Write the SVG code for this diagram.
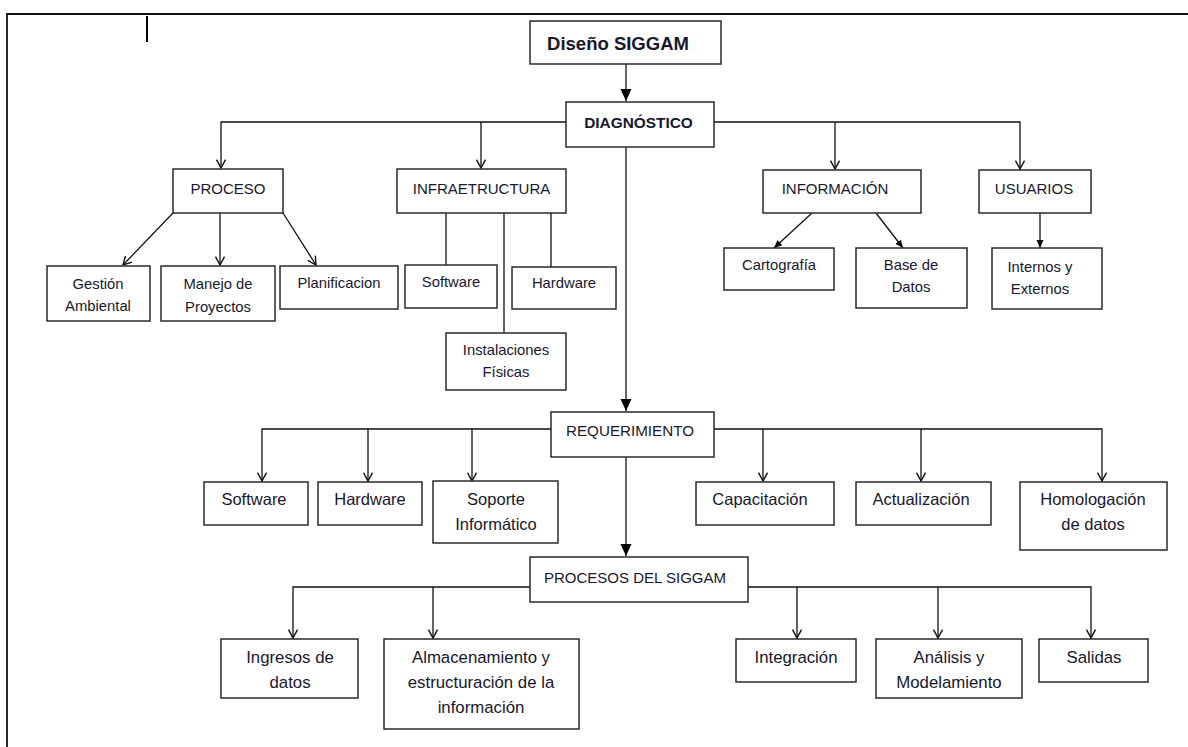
<svg xmlns="http://www.w3.org/2000/svg" width="1188" height="747" viewBox="0 0 1188 747">
<style>
.box{fill:#fff;stroke:#2a2a2a;stroke-width:1.5}
.t{font-family:"Liberation Sans",Arial,sans-serif;fill:#17172e;text-anchor:middle}
.h{font-size:15px}
.s{font-size:14.8px}
.m{font-size:16.5px}
.l{font-size:16.8px}
.c{fill:none;stroke:#111;stroke-width:1.3}
.open{marker-end:url(#open)}
.fill{marker-end:url(#fill)}
.sm{marker-end:url(#small)}
</style>
<defs>
<marker id="open" viewBox="0 0 10 10" refX="9.3" refY="5" markerWidth="10" markerHeight="10" orient="auto" markerUnits="userSpaceOnUse"><path d="M1,0.5 L9.3,5 L1,9.5" fill="none" stroke="#111" stroke-width="1.4"/></marker>
<marker id="fill" viewBox="0 0 12 12" refX="12" refY="6" markerWidth="12" markerHeight="12" orient="auto" markerUnits="userSpaceOnUse"><path d="M0,0.5 L12,6 L0,11.5 z" fill="#000"/></marker>
<marker id="small" viewBox="0 0 8 8" refX="8" refY="4" markerWidth="8" markerHeight="8" orient="auto" markerUnits="userSpaceOnUse"><path d="M0,0.5 L8,4 L0,7.5 z" fill="#000"/></marker>
</defs>
<g id="frame">
<path d="M7,747 V14 H1188" fill="none" stroke="#111" stroke-width="1.8"/>
<rect x="146" y="16" width="2" height="26" fill="#000"/>
</g>
<g id="connectors">
<path class="c fill" d="M626,64 V101"/>
<path class="c open" d="M566,122 H221 V168"/>
<path class="c open" d="M481,122 V168"/>
<path class="c open" d="M714,122 H1020 V169"/>
<path class="c open" d="M835,122 V169"/>
<path class="c fill" d="M626,147 V411"/>
<path class="c open" d="M173,213 L123,265"/>
<path class="c open" d="M220,213 V265"/>
<path class="c open" d="M283,213 L316,265"/>
<path class="c" d="M446,213 V265"/>
<path class="c" d="M504,213 V333"/>
<path class="c" d="M551,213 V267"/>
<path class="c sm" d="M812,213 L774,248"/>
<path class="c sm" d="M876,213 L903,248"/>
<path class="c sm" d="M1040,213 V248"/>
<path class="c open" d="M551,429 H262 V481"/>
<path class="c open" d="M368,429 V481"/>
<path class="c open" d="M472,429 V481"/>
<path class="c open" d="M714,429 H1102 V481"/>
<path class="c open" d="M763,429 V481"/>
<path class="c open" d="M921,429 V481"/>
<path class="c fill" d="M626,457 V556"/>
<path class="c open" d="M530,587 H293 V638"/>
<path class="c open" d="M433,587 V638"/>
<path class="c open" d="M748,587 H1091 V638"/>
<path class="c open" d="M797,587 V638"/>
<path class="c open" d="M938,587 V638"/>
</g>
<g id="diseno"><rect class="box" x="530" y="21" width="191" height="43"/><text class="t" x="618" y="50" font-size="18.5" font-weight="bold">Diseño SIGGAM</text></g>
<g id="diagnostico"><rect class="box" x="566" y="102" width="148" height="45"/><text class="t" x="638.5" y="128" font-size="15.4" font-weight="bold">DIAGNÓSTICO</text></g>
<g id="proceso"><rect class="box" x="173" y="169" width="110" height="44"/><text class="t h" x="228" y="194">PROCESO</text></g>
<g id="infraestructura"><rect class="box" x="397" y="169" width="169" height="44"/><text class="t h" x="481.5" y="194">INFRAETRUCTURA</text></g>
<g id="informacion"><rect class="box" x="763" y="170" width="158" height="43"/><text class="t h" x="835" y="194">INFORMACIÓN</text></g>
<g id="usuarios"><rect class="box" x="979" y="170" width="112" height="43"/><text class="t h" x="1034" y="194">USUARIOS</text></g>
<g id="gestion"><rect class="box" x="47" y="266" width="103" height="55"/><text class="t s" x="98" y="289">Gestión</text><text class="t s" x="98" y="311">Ambiental</text></g>
<g id="manejo"><rect class="box" x="161" y="266" width="114" height="55"/><text class="t s" x="218" y="289">Manejo de</text><text class="t s" x="218" y="312">Proyectos</text></g>
<g id="planificacion"><rect class="box" x="280" y="266" width="118" height="43"/><text class="t s" x="339" y="288">Planificacion</text></g>
<g id="software1"><rect class="box" x="405" y="265" width="92" height="43"/><text class="t s" x="451" y="287">Software</text></g>
<g id="hardware1"><rect class="box" x="512" y="267" width="104" height="42"/><text class="t s" x="564" y="288">Hardware</text></g>
<g id="instalaciones"><rect class="box" x="446" y="333" width="120" height="57"/><text class="t s" x="506" y="355">Instalaciones</text><text class="t s" x="506" y="377">Físicas</text></g>
<g id="cartografia"><rect class="box" x="724" y="248" width="110" height="42"/><text class="t s" x="779" y="270">Cartografía</text></g>
<g id="basedatos"><rect class="box" x="856" y="248" width="111" height="60"/><text class="t s" x="911" y="270">Base de</text><text class="t s" x="911" y="292">Datos</text></g>
<g id="internos"><rect class="box" x="992" y="248" width="110" height="61"/><text class="t s" x="1040" y="272">Internos y</text><text class="t s" x="1040" y="294">Externos</text></g>
<g id="requerimiento"><rect class="box" x="551" y="412" width="163" height="45"/><text class="t" x="630" y="436" font-size="15.2">REQUERIMIENTO</text></g>
<g id="software2"><rect class="box" x="204" y="482" width="104" height="43"/><text class="t m" x="254" y="505">Software</text></g>
<g id="hardware2"><rect class="box" x="318" y="482" width="104" height="43"/><text class="t m" x="370" y="505">Hardware</text></g>
<g id="soporte"><rect class="box" x="433" y="481" width="125" height="62"/><text class="t m" x="496" y="505">Soporte</text><text class="t m" x="496" y="530">Informático</text></g>
<g id="capacitacion"><rect class="box" x="696" y="482" width="138" height="43"/><text class="t m" x="760" y="505">Capacitación</text></g>
<g id="actualizacion"><rect class="box" x="856" y="482" width="135" height="43"/><text class="t m" x="921" y="505">Actualización</text></g>
<g id="homologacion"><rect class="box" x="1020" y="482" width="147" height="68"/><text class="t m" x="1093" y="505">Homologación</text><text class="t m" x="1093" y="530">de datos</text></g>
<g id="procesos"><rect class="box" x="530" y="557" width="218" height="45"/><text class="t" x="635" y="583" font-size="15">PROCESOS DEL SIGGAM</text></g>
<g id="ingresos"><rect class="box" x="221" y="639" width="137" height="59"/><text class="t l" x="290" y="663">Ingresos de</text><text class="t l" x="290" y="688">datos</text></g>
<g id="almacenamiento"><rect class="box" x="384" y="639" width="195" height="90"/><text class="t l" x="481" y="663">Almacenamiento y</text><text class="t l" x="481" y="688">estructuración de la</text><text class="t l" x="481" y="713">información</text></g>
<g id="integracion"><rect class="box" x="736" y="639" width="120" height="43"/><text class="t l" x="796" y="663">Integración</text></g>
<g id="analisis"><rect class="box" x="876" y="639" width="146" height="59"/><text class="t l" x="949" y="663">Análisis y</text><text class="t l" x="949" y="688">Modelamiento</text></g>
<g id="salidas"><rect class="box" x="1039" y="639" width="109" height="43"/><text class="t l" x="1094" y="663">Salidas</text></g>
</svg>
